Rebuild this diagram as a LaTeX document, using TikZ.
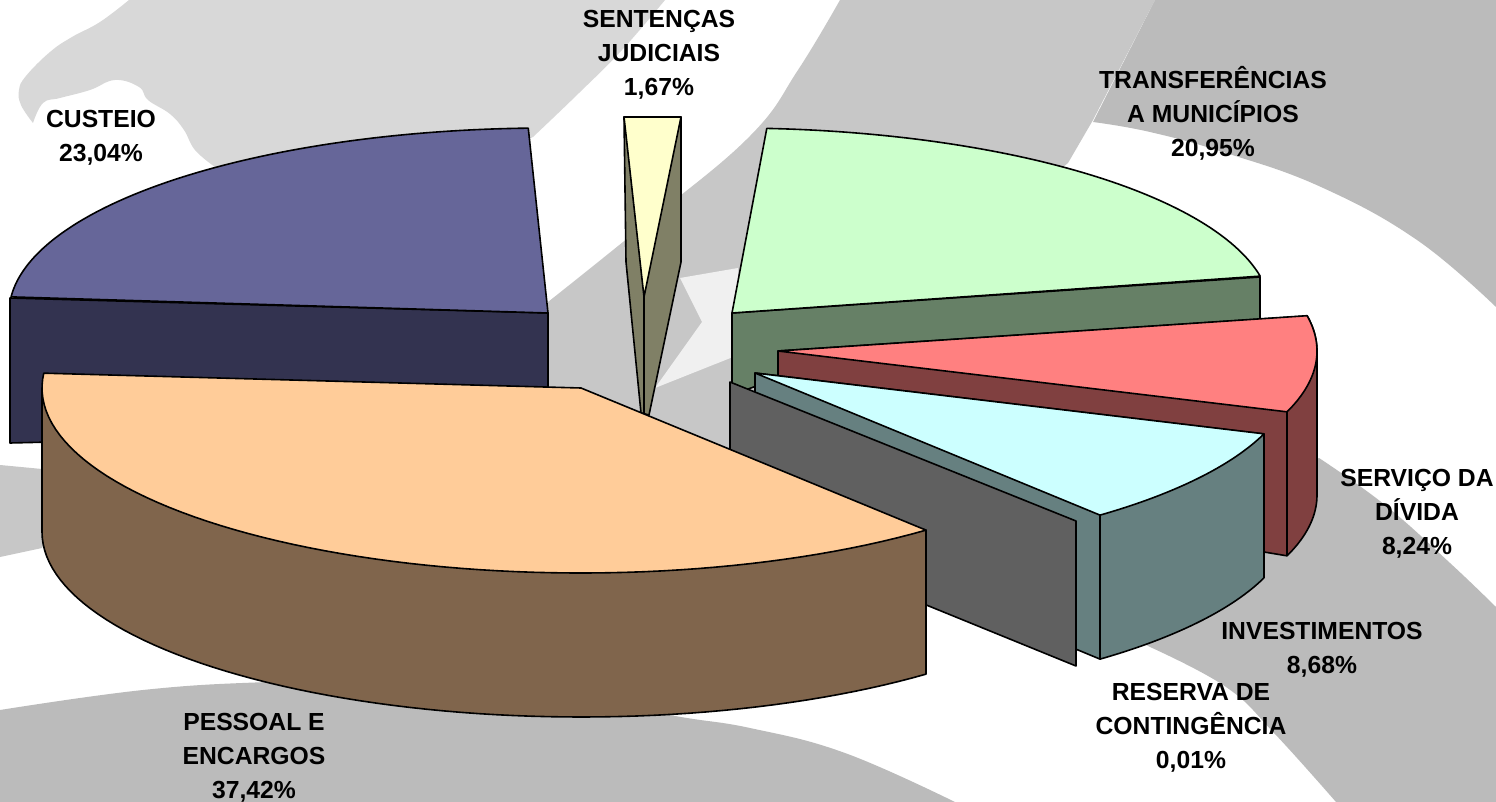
\documentclass[tikz,border=0pt]{standalone}
\usepackage{fontspec}
\setmainfont{Liberation Sans}
\definecolor{bgl}{HTML}{D8D8D8}
\definecolor{bgm}{HTML}{C7C7C7}
\definecolor{bgd}{HTML}{BBBBBB}
\definecolor{bgz}{HTML}{F0F0F0}
\definecolor{cpurple}{HTML}{666699}
\definecolor{cpurpled}{HTML}{333350}
\definecolor{cyellow}{HTML}{FFFFCC}
\definecolor{colive}{HTML}{808066}
\definecolor{cgreen}{HTML}{CCFFCC}
\definecolor{cgreend}{HTML}{668066}
\definecolor{cred}{HTML}{FF8080}
\definecolor{credd}{HTML}{804040}
\definecolor{ccyan}{HTML}{CCFFFF}
\definecolor{ccyand}{HTML}{668080}
\definecolor{cgrey}{HTML}{606060}
\definecolor{cpeach}{HTML}{FFCC99}
\definecolor{cbrown}{HTML}{80654C}
\tikzset{
  face/.style={draw=black,line width=1.6pt,line join=round},
  lbl/.style={font=\bfseries\fontsize{24.7}{34}\selectfont,align=center,text=black,inner sep=0pt},
  sm/.style={smooth,tension=0.7},
  % elliptical rim of the pie: centre (cx,cy), from angle a to angle b
  rim/.style n args={4}{insert path={-- plot[samples=70,variable=\t,domain=#3:#4] ({#1+539*cos(\t)},{#2+185*sin(\t)})}}
}
\begin{document}
\begin{tikzpicture}[x=1pt,y=-1pt]
\useasboundingbox (0,0) rectangle (1496,802);
\fill[white] (0,0) rectangle (1496,802);
% background shapes
\fill[bgl] (665,0) -- plot[sm] coordinates {(665,0) (622,50) (579,93) (533,137)} -- (400,200) -- (215,167)
  -- plot[sm] coordinates {(215,167) (195,150) (184,130) (170,114) (148,100) (139,87) (115,80) (90,90) (60,98) (43,103) (33,123)}
  -- plot[sm] coordinates {(33,123) (21,105) (19,90) (26,76) (50,52) (72,37) (100,22) (129,0)} -- cycle;
\fill[bgm] (840,0) -- (1155,0) -- (1093,120) -- (1068,163) -- (900,300) -- (760,480) -- (548,480) -- (548,302)
  -- plot[sm] coordinates {(548,302) (650,220) (750,136) (798,70) (840,0)} -- cycle;
\fill[bgz] (738,268) -- (680,278) -- (702,322) -- (655,388) -- (738,355) -- cycle;
\fill[bgm] (0,465) -- (42,469) -- (60,500) -- (42,548) -- (0,557) -- cycle;
\fill[bgd] (1155,0) -- (1496,0) -- (1496,307)
  -- plot[sm] coordinates {(1496,307) (1417,240) (1321,187) (1226,153) (1150,132) (1093,122)} -- cycle;
\fill[bgd] (0,802) -- (0,710) -- plot[sm] coordinates {(0,710) (143,690) (268,682) (400,680) (550,690) (670,715) (750,728) (845,753) (955,802)} -- cycle;
\fill[bgd] (1496,802) -- (1496,607)
  -- plot[sm] coordinates {(1496,607) (1450,563) (1385,505) (1319,458)} -- (1250,500) -- (1120,630)
  -- plot[sm] coordinates {(1150,647) (1226,687) (1274,733) (1336,802)} -- cycle;
% CUSTEIO
\filldraw[face,fill=cpurpled] (10,298) -- (548,313) -- (548,430) -- (10,443) -- cycle;
\filldraw[face,fill=cpurple] (548,313) [rim={548}{313}{185}{267.9}] -- cycle;
% SENTENCAS
\filldraw[face,fill=colive] (624,117) -- (626,262) -- (641,413) -- (649,415) -- (681,262) -- (681,117) -- cycle;
\draw[face] (644,297) -- (644,413);
\filldraw[face,fill=cyellow] (624,117) -- (681,117) -- (644,297) -- cycle;
% TRANSFERENCIAS
\filldraw[face,fill=cgreend] (732,313) -- (1260,277) -- (1260,345) -- (778,378) -- (732,395) -- cycle;
\filldraw[face,fill=cgreen] (732,313) [rim={732}{313}{-86.3}{-11.5}] -- cycle;
% SERVICO
\filldraw[face,fill=credd] (778,351) -- (1307,316) [rim={778}{351}{-11}{0}] [rim={778}{495}{0}{19.2}] -- (1240,548) -- (778,378) -- cycle;
\filldraw[face,fill=cred] (778,351) [rim={778}{351}{-11}{19.2}] -- cycle;
\draw[face] (1287,411) -- (1287,555);
% INVESTIMENTOS
\filldraw[face,fill=ccyand] (755,373) -- (1264,434) [rim={755}{517}{19.2}{50.2}] -- (755,516) -- cycle;
\filldraw[face,fill=ccyan] (755,373) [rim={755}{373}{19.2}{50.2}] -- cycle;
\draw[face] (1100,515) -- (1100,659);
% RESERVA
\filldraw[face,fill=cgrey] (730,382) -- (1076,521) -- (1076,666) -- (730,525) -- cycle;
% PESSOAL
\filldraw[face,fill=cbrown] (42,388) [rim={581}{532}{180}{50.2}] -- (926,530) -- cycle;
\filldraw[face,fill=cpeach] (581,388) [rim={581}{388}{50.2}{184.6}] -- cycle;
% labels
\node[lbl] (sent) at (659,55) {SENTENÇAS\\JUDICIAIS\\1,67\%};
\node[lbl] (cust) at (101,138) {CUSTEIO\\23,04\%};
\node[lbl] (trans) at (1213,113) {TRANSFERÊNCIAS\\A MUNICÍPIOS\\20,95\%};
\node[lbl] (serv) at (1417,514) {SERVIÇO DA\\DÍVIDA\\8,24\%};
\node[lbl] (inv) at (1322,650) {INVESTIMENTOS\\8,68\%};
\node[lbl] (res) at (1191,728) {RESERVA DE\\CONTINGÊNCIA\\0,01\%};
\node[lbl] (pess) at (254,758) {PESSOAL E\\ENCARGOS\\37,42\%};
\end{tikzpicture}
\end{document}
